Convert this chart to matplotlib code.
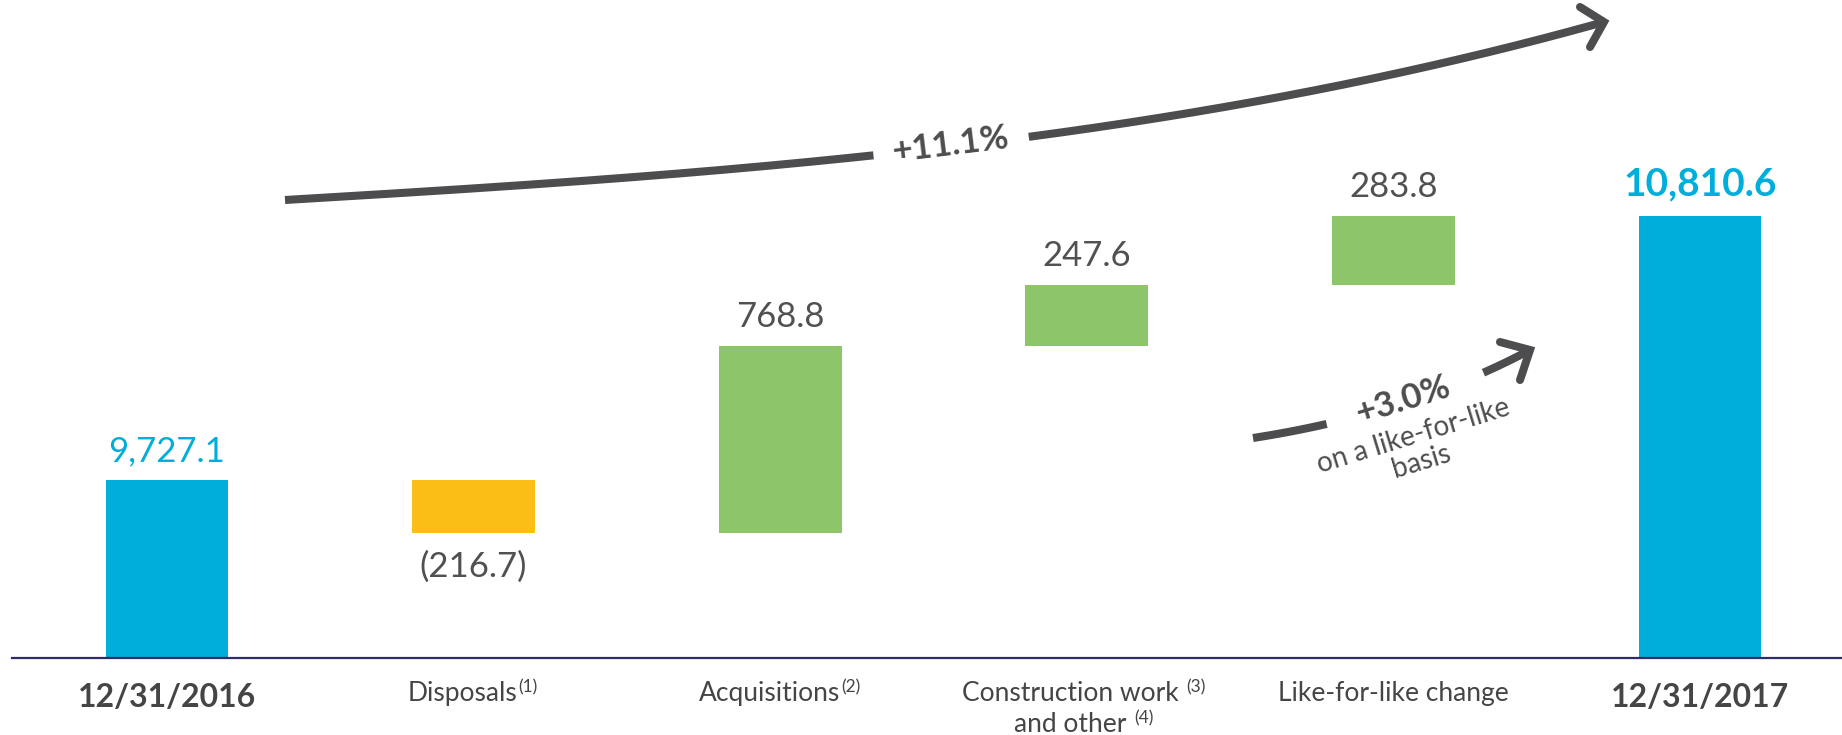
import numpy as np
import matplotlib
matplotlib.use("Agg")
import matplotlib.pyplot as plt
import matplotlib.transforms as mtransforms
from matplotlib import font_manager as fm

# ---- data -------------------------------------------------------------
categories = ["12/31/2016", "Disposals", "Acquisitions", "Construction work",
              "Like-for-like change", "12/31/2017"]
second_line = ["", "", "", "and other", "", ""]
notes_line1 = ["", "(1)", "(2)", "(3)", "", ""]
notes_line2 = ["", "", "", "(4)", "", ""]
kinds = ["total", "delta", "delta", "delta", "delta", "total"]
values = [9727.1, -216.7, 768.8, 247.6, 283.8, 10810.6]
value_labels = ["9,727.1", "(216.7)", "768.8", "247.6", "283.8", "10,810.6"]
growth_total = "+11.1%"
growth_lfl = "+3.0%"
growth_lfl_note = "on a like-for-like\nbasis"
axis_floor = 9000.0

# ---- style ------------------------------------------------------------
available = {f.name for f in fm.fontManager.ttflist}
FONT = next((f for f in ["Lato", "Open Sans", "Noto Sans", "DejaVu Sans"] if f in available),
            "DejaVu Sans")
plt.rcParams["font.family"] = [FONT, "DejaVu Sans"]

CYAN = "#00AEDB"
GREEN = "#8DC56A"
YELLOW = "#FBBE16"
VALUE_GREY = "#505153"
LABEL_GREY = "#454547"
ARROW_GREY = "#4D4D4F"
AXIS_NAVY = "#2E2D6B"

W, H = 1842, 735
fig = plt.figure(figsize=(W / 100, H / 100), dpi=100)
ax = fig.add_axes([0, 0, 1, 1])
ax.axis("off")

# horizontal layout: bar slots 306.6 px apart, first centre at 167 px
slot_px, first_px = 306.6, 167.0
ax.set_xlim(-first_px / slot_px, (W - first_px) / slot_px)
# vertical layout: axis floor at 657.5 px from the top, 0.2439 px per unit
floor_px, unit_px = 657.5, 0.2439
ax.set_ylim(axis_floor - (H - floor_px) / unit_px, axis_floor + floor_px / unit_px)

# pixel coordinates measured from the top-left corner of the figure
px = mtransforms.Affine2D().scale(1 / W, -1 / H).translate(0, 1) + fig.transFigure

# ---- waterfall bars ------------------------------------------------------
x = np.arange(len(values))
bottoms, heights, colors = [], [], []
running = 0.0
for kind, v in zip(kinds, values):
    if kind == "total":
        bottoms.append(axis_floor)
        heights.append(v - axis_floor)
        colors.append(CYAN)
        running = v
    else:
        bottoms.append(running if v >= 0 else running + v)
        heights.append(abs(v))
        colors.append(GREEN if v >= 0 else YELLOW)
        running += v

ax.bar(x, heights, bottom=bottoms, width=0.4, color=colors, zorder=2)
ax.axhline(axis_floor, xmin=12 / W, xmax=1, color=AXIS_NAVY, lw=1.6, zorder=3)

# ---- value labels -------------------------------------------------------
for i, (kind, v, lab) in enumerate(zip(kinds, values, value_labels)):
    top = bottoms[i] + heights[i]
    if kind == "total":
        bold = i == len(values) - 1
        ax.annotate(lab, xy=(i, top), xytext=(0, 20 if bold else 19),
                    textcoords="offset pixels", ha="center", va="baseline",
                    color=CYAN, fontsize=28 if bold else 25,
                    fontweight="bold" if bold else "normal")
    elif v >= 0:
        ax.annotate(lab, xy=(i, top), xytext=(0, 19), textcoords="offset pixels",
                    ha="center", va="baseline", color=VALUE_GREY, fontsize=25,
                    fontweight="normal")
    else:
        ax.annotate(lab, xy=(i, bottoms[i]), xytext=(0, -44), textcoords="offset pixels",
                    ha="center", va="baseline", color=VALUE_GREY, fontsize=25,
                    fontweight="normal")

# ---- category labels ----------------------------------------------------
def category_line(i, text, note, drop_px, bold=False):
    shift = 0
    if note:
        shift = -13 if " " in text else -11
        if " " in text:
            text = text + " "
    t = ax.annotate(text, xy=(i, axis_floor), xytext=(shift, -drop_px),
                    textcoords="offset pixels", ha="center", va="baseline",
                    color=LABEL_GREY, fontsize=23 if bold else 19,
                    fontweight="bold" if bold else "normal")
    if note:
        ax.annotate(note, xy=(1.0, axis_floor), xycoords=(t, "data"),
                    xytext=(1, -(drop_px - 9)), textcoords="offset pixels",
                    ha="left", va="baseline", color=LABEL_GREY, fontsize=12.5)

for i, cat in enumerate(categories):
    is_total = kinds[i] == "total"
    category_line(i, cat, notes_line1[i], 49.5 if is_total else 43.5, bold=is_total)
    if second_line[i]:
        category_line(i, second_line[i], notes_line2[i], 74.5)

# ---- growth arrows -------------------------------------------------------
def bezier(p0, p1, p2, p3, n=400):
    t = np.linspace(0, 1, n)[:, None]
    pts = ((1 - t) ** 3 * np.array(p0) + 3 * t * (1 - t) ** 2 * np.array(p1)
           + 3 * t ** 2 * (1 - t) * np.array(p2) + t ** 3 * np.array(p3))
    return pts[:, 0], pts[:, 1]

def arrow(ctrl, gap, head, lw=5.8):
    xs, ys = bezier(*ctrl)
    before = xs <= gap[0]
    after = xs >= gap[1]
    for m in (before, after):
        ax.plot(xs[m], ys[m], transform=px, color=ARROW_GREY, lw=lw,
                solid_capstyle="butt", clip_on=False, zorder=4)
    hx, hy = zip(*head)
    ax.plot(hx, hy, transform=px, color=ARROW_GREY, lw=lw, solid_capstyle="round",
            solid_joinstyle="miter", clip_on=False, zorder=4)

arrow([(285, 200), (725, 174), (1164, 145), (1604, 22)], (875, 1027),
      [(1580, 7), (1604, 22), (1590, 47)])
arrow([(1253, 438), (1343, 424), (1440, 398), (1530, 350)], (1327, 1483),
      [(1500, 342), (1530, 350), (1520, 380)])

ax.text(950, 145, growth_total, transform=px, rotation=7, rotation_mode="anchor",
        ha="center", va="center", fontsize=25, fontweight="bold", color=ARROW_GREY)
ax.text(1403, 400, growth_lfl, transform=px, rotation=17, rotation_mode="anchor",
        ha="center", va="center", fontsize=25, fontweight="bold", color=ARROW_GREY)
ax.text(1417, 449, growth_lfl_note, transform=px, rotation=17, rotation_mode="anchor",
        ha="center", va="center", multialignment="center", linespacing=1.05,
        fontsize=20, color=ARROW_GREY)

fig.savefig("out.png", dpi=100)
